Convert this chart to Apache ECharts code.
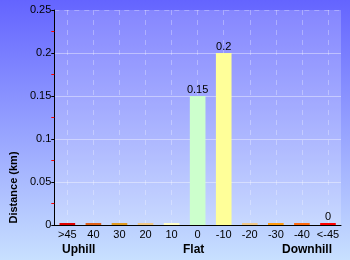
<!DOCTYPE html>
<html>
<head>
<meta charset="utf-8">
<script src="https://cdn.jsdelivr.net/npm/echarts@6/dist/echarts.min.js"></script>
<style>
  html, body { margin: 0; padding: 0; }
  #container { width: 350px; height: 260px; }
</style>
</head>
<body>
<div id="container"></div>
<script>
// gradient categories (percent)
var categories = [">45", "40", "30", "20", "10", "0", "-10", "-20", "-30", "-40", "<-45"];
// distance per gradient, km
var distances = [0, 0, 0, 0, 0, 0.15, 0.2, 0, 0, 0, 0];
// which bars carry a value label
var labelled = [false, false, false, false, false, true, true, false, false, false, true];
var barColors = ["#e00000", "#e06018", "#e09a20", "#f0c888", "#ffffc8", "#ccffcc",
                 "#ffff99", "#f0c888", "#ff9a10", "#ff6a10", "#ff0000"];
var yTicks = [0, 0.05, 0.1, 0.15, 0.2, 0.25];

var dom = document.getElementById("container");
var myChart = echarts.init(dom);

// half-step positions so split lines land on the category centres
var halfSteps = [];
for (var i = 0; i < categories.length * 2 + 1; i++) halfSteps.push(i);

var option = {
  animation: false,
  backgroundColor: {
    type: "linear", x: 0, y: 0, x2: 0, y2: 1,
    colorStops: [
      { offset: 0, color: "#6464ff" },
      { offset: 1, color: "#c8e0ff" }
    ]
  },
  textStyle: { fontFamily: "Liberation Sans, Arial, sans-serif" },
  grid: {
    left: 51, right: 9, top: 10, bottom: 35,
    show: true,
    backgroundColor: "rgba(255,255,255,0.2)",
    borderWidth: 0
  },
  xAxis: [{
    type: "category",
    data: categories,
    axisLine: { lineStyle: { color: "#000", width: 1 } },
    axisTick: { show: false },
    axisLabel: { color: "#000", fontSize: 11, margin: 4, interval: 0 },
    splitLine: { show: false }
  }, {
    type: "category",
    data: halfSteps,
    boundaryGap: false,
    position: "bottom",
    axisLine: { show: false },
    axisTick: { show: false },
    axisLabel: { show: false },
    splitLine: {
      show: true,
      interval: function (idx) { return idx % 2 === 1; },
      lineStyle: { color: "rgba(255,255,255,0.3)", type: [5, 5], width: 1 }
    }
  }],
  yAxis: [{
    type: "value",
    min: yTicks[0],
    max: yTicks[yTicks.length - 1],
    interval: 0.05,
    name: "Distance (km)",
    nameLocation: "middle",
    nameRotate: 90,
    nameGap: 32,
    nameTextStyle: { color: "#000", fontSize: 11, fontWeight: "bold", padding: [0, 140, 0, 0] },
    axisLine: { show: true, lineStyle: { color: "#000", width: 1 } },
    axisTick: { show: true, length: 3, lineStyle: { color: "#000" } },
    minorTick: { show: true, splitNumber: 2, length: 3, lineStyle: { color: "#ff0000" } },
    axisLabel: { color: "#000", fontSize: 11, margin: 3 },
    splitLine: {
      show: true,
      showMaxLine: false,
      lineStyle: { color: "rgba(255,255,255,0.4)", width: 1 }
    }
  }, {
    type: "value",
    min: 0,
    max: 0.25,
    interval: 0.25,
    axisLine: { show: false },
    axisTick: { show: false },
    axisLabel: { show: false },
    splitLine: {
      show: true,
      showMinLine: false,
      lineStyle: { color: "rgba(255,255,255,0.3)", type: [5, 5], width: 1 }
    }
  }],
  graphic: [
    { type: "text", left: 62, top: 244,
      style: { text: "Uphill", fill: "#000", font: "bold 12px Liberation Sans, Arial, sans-serif" } },
    { type: "text", left: 183, top: 244,
      style: { text: "Flat", fill: "#000", font: "bold 12px Liberation Sans, Arial, sans-serif" } },
    { type: "text", right: 18, top: 244,
      style: { text: "Downhill", fill: "#000", font: "bold 12px Liberation Sans, Arial, sans-serif" } }
  ],
  series: [{
    type: "bar",
    xAxisIndex: 0,
    yAxisIndex: 0,
    barWidth: "60%",
    barMinHeight: 2,
    data: distances.map(function (v, i) {
      return {
        value: v,
        itemStyle: { color: barColors[i] },
        label: {
          show: labelled[i],
          position: "top",
          distance: 1,
          color: "#000",
          fontSize: 11
        }
      };
    })
  }]
};

myChart.setOption(option);
</script>
</body>
</html>
